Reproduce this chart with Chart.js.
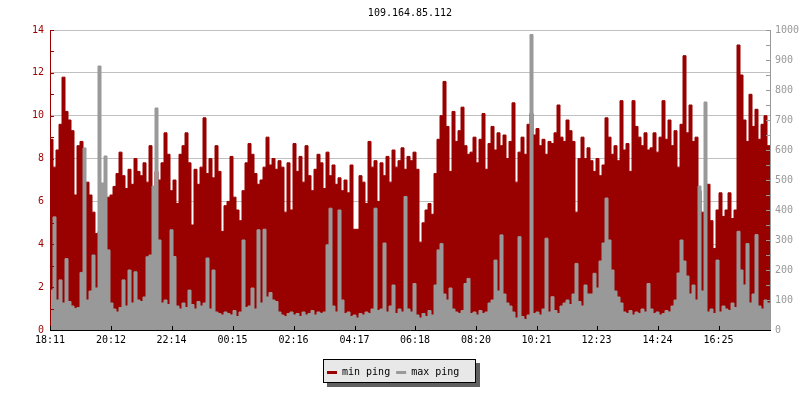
<!DOCTYPE html>
<html><head><meta charset="utf-8">
<script src="https://cdn.jsdelivr.net/npm/chart.js@4"></script>
<style>html,body{margin:0;padding:0;background:#fff}#wrap{width:800px;height:400px;position:relative}</style>
</head><body><div id="wrap"><canvas id="c" width="800" height="400"></canvas></div>
<script>
const chartTitle = '109.164.85.112';
const seriesNames = ['min ping', 'max ping'];
const stepMinutes = 6;
const spanMinutes = 1440;
const tickMinutes = [0, 122, 243, 365, 487, 609, 730, 852, 973, 1093, 1215, 1337];
const tickLabels = ['18:11','20:12','22:14','00:15','02:16','04:17','06:18','08:20','10:21','12:23','14:24','16:25'];

const minPing = [
8.9,7.6,8.4,9.6,11.8,10.2,9.8,9.3,6.3,8.6,
8.8,6.8,6.9,6.3,5.5,4.5,4.6,5.0,5.5,6.2,
6.3,6.7,7.3,8.3,7.2,6.6,7.5,6.8,8.0,7.4,
7.2,7.8,6.9,8.6,6.5,7.4,7.0,7.8,9.2,8.2,
6.5,7.0,5.9,8.2,8.6,9.2,7.8,4.9,7.5,6.8,
7.6,9.9,7.3,8.0,7.1,8.6,7.4,4.6,5.8,6.0,
8.1,6.2,5.6,5.1,6.5,7.8,8.7,8.2,7.3,6.8,
7.0,7.6,9.0,7.7,8.0,7.5,7.9,7.6,5.5,7.8,
5.6,8.7,7.4,8.1,6.9,8.6,7.2,6.5,7.5,8.2,
7.8,6.6,8.3,7.2,7.7,6.8,7.1,6.5,7.0,6.4,
7.7,4.7,4.7,7.2,6.9,5.9,8.8,7.6,7.9,6.0,
7.8,7.2,8.1,6.9,8.4,7.6,7.9,8.5,7.5,8.1,
7.9,8.3,7.5,4.1,5.0,5.6,5.9,5.4,7.3,8.9,
10.0,11.6,9.5,7.4,10.2,8.8,9.3,10.4,8.6,8.2,
8.3,9.0,7.8,8.9,10.1,7.5,8.7,9.5,8.4,9.2,
8.6,9.1,8.0,8.8,10.6,6.9,8.3,9.0,8.2,9.6,
10.1,9.1,9.4,8.6,8.9,8.2,8.8,8.7,9.2,10.5,
9.0,8.8,9.8,9.3,8.8,5.5,8.0,9.0,8.0,8.5,
7.9,7.4,8.0,7.2,7.7,9.9,9.0,8.2,8.6,7.9,
10.7,8.4,8.7,7.4,10.7,9.5,9.0,8.6,9.2,8.4,
8.5,9.2,8.3,9.0,10.7,8.9,9.8,8.6,9.3,7.6,
9.6,12.8,9.2,10.5,8.8,9.0,6.5,5.5,4.8,6.8,
5.1,3.8,5.6,6.4,5.3,5.6,6.4,5.2,5.6,13.3,
11.9,9.8,8.8,11.0,9.5,10.3,8.9,9.6,10.0,8.6
];

const maxPing = [
133,377,100,167,90,238,95,80,72,75,
192,607,100,130,250,140,880,490,580,267,
90,70,60,75,167,80,200,90,194,100,
95,110,244,250,480,740,300,90,100,85,
334,245,80,70,90,75,133,85,70,95,
80,90,240,70,200,60,55,50,60,55,
50,65,45,60,300,75,80,140,70,334,
90,336,110,125,100,95,60,50,45,55,
60,50,55,45,60,50,55,65,50,60,
55,60,284,406,80,60,400,100,55,60,
45,50,40,55,50,60,55,70,406,65,
70,290,60,80,150,55,70,60,445,70,
60,155,50,40,55,45,65,50,150,267,
288,120,100,140,70,60,55,65,155,172,
55,60,50,65,55,60,90,100,233,130,
317,120,90,80,60,40,311,45,35,50,
985,55,60,50,70,306,60,111,65,55,
80,90,100,85,120,222,95,80,150,120,
120,189,140,230,290,440,300,200,130,110,
90,60,55,65,50,60,55,70,60,155,
70,55,60,50,55,65,60,80,100,190,
300,230,180,120,150,100,480,130,760,60,
70,55,233,60,80,70,65,90,75,329,
200,150,288,90,120,318,80,70,100,90
];

const redColor = '#990000';
const grayColor = '#999999';
const monoFont = { family: "'DejaVu Sans Mono', 'Liberation Mono', monospace", size: 10, weight: 'normal' };

function toPoints(values) {
  const pts = values.map((v, i) => ({ x: i * stepMinutes, y: v }));
  pts.push({ x: spanMinutes, y: values[values.length - 1] });
  return pts;
}

const decor = {
  id: 'decor',
  afterDatasetsDraw(chart) {
    const { ctx, chartArea: a, scales } = chart;
    ctx.save();
    ctx.lineWidth = 1;
    ctx.strokeStyle = redColor;
    ctx.beginPath();
    ctx.moveTo(a.left + 0.5, a.top); ctx.lineTo(a.left + 0.5, a.bottom);
    scales.yL.ticks.forEach(t => {
      const y = Math.round(scales.yL.getPixelForValue(t.value)) + 0.5;
      ctx.moveTo(a.left, y); ctx.lineTo(a.left + 4, y);
    });
    ctx.stroke();
    ctx.strokeStyle = grayColor;
    ctx.beginPath();
    ctx.moveTo(a.right + 0.5, a.top); ctx.lineTo(a.right + 0.5, a.bottom);
    scales.yR.ticks.forEach(t => {
      const y = Math.round(scales.yR.getPixelForValue(t.value)) + 0.5;
      ctx.moveTo(a.right - 4, y); ctx.lineTo(a.right + 1, y);
    });
    ctx.stroke();
    ctx.strokeStyle = '#000';
    ctx.beginPath();
    ctx.moveTo(a.left, a.bottom + 0.5); ctx.lineTo(a.right + 1, a.bottom + 0.5);
    scales.x.ticks.forEach(t => {
      const x = Math.round(scales.x.getPixelForValue(t.value)) + 0.5;
      ctx.moveTo(x, a.bottom - 4); ctx.lineTo(x, a.bottom + 1);
    });
    ctx.stroke();
    ctx.restore();
  },
  afterDraw(chart) {
    const { ctx } = chart;
    const lx = 323, ly = 359, lw = 153, lh = 24;
    ctx.save();
    ctx.fillStyle = '#606060';
    ctx.fillRect(lx + 4, ly + 4, lw, lh);
    ctx.fillStyle = '#e8e8e8';
    ctx.fillRect(lx, ly, lw, lh);
    ctx.strokeStyle = '#000';
    ctx.lineWidth = 1;
    ctx.strokeRect(lx + 0.5, ly + 0.5, lw - 1, lh - 1);
    ctx.font = "10px 'DejaVu Sans Mono', monospace";
    ctx.textBaseline = 'alphabetic';
    ctx.textAlign = 'left';
    let x = lx + 4;
    chart.data.datasets.forEach(ds => {
      ctx.fillStyle = ds.borderColor;
      ctx.fillRect(x, ly + 12, 10, 3);
      x += 15;
      ctx.fillStyle = '#000';
      ctx.fillText(ds.label, x, ly + 16);
      x += ctx.measureText(ds.label).width + 6;
    });
    ctx.restore();
  }
};

new Chart(document.getElementById('c'), {
  type: 'line',
  data: {
    datasets: [
      { label: seriesNames[0], data: toPoints(minPing), yAxisID: 'yL', stepped: true, fill: 'origin',
        backgroundColor: redColor, borderColor: redColor, borderWidth: 1, pointRadius: 0, order: 1 },
      { label: seriesNames[1], data: toPoints(maxPing), yAxisID: 'yR', stepped: true, fill: 'origin',
        backgroundColor: grayColor, borderColor: grayColor, borderWidth: 1, pointRadius: 0, order: 0 }
    ]
  },
  options: {
    responsive: false,
    animation: false,
    events: [],
    layout: { padding: { top: 0, left: 0, right: 0, bottom: 50 } },
    plugins: {
      legend: { display: false },
      tooltip: { enabled: false },
      title: { display: true, text: chartTitle, fullSize: false, color: '#000', font: monoFont, padding: { top: 7, bottom: 11 } }
    },
    scales: {
      x: {
        type: 'linear', min: 0, max: spanMinutes,
        border: { display: false },
        grid: { display: false, drawTicks: false },
        ticks: { autoSkip: false, maxRotation: 0, padding: 4, color: '#000', font: monoFont,
                 callback: (v, i) => tickLabels[i] ?? '' },
        afterBuildTicks: s => { s.ticks = tickMinutes.map(v => ({ value: v })); },
        afterFit: s => { s.height = 20; }
      },
      yL: {
        position: 'left', min: 0, max: 14,
        border: { display: false },
        grid: { drawTicks: false, color: c => (c.tick && c.tick.value % 2 === 0) ? '#c0c0c0' : 'rgba(0,0,0,0)' },
        ticks: { stepSize: 1, autoSkip: false, padding: 6, color: redColor, font: monoFont,
                 callback: v => v % 2 === 0 ? String(v) : '' },
        afterFit: s => { s.width = 50; }
      },
      yR: {
        position: 'right', min: 0, max: 1000,
        border: { display: false },
        grid: { drawOnChartArea: false, drawTicks: false },
        ticks: { stepSize: 50, autoSkip: false, padding: 5, color: grayColor, font: monoFont,
                 callback: v => v % 100 === 0 ? String(v) : '' },
        afterFit: s => { s.width = 30; }
      }
    }
  },
  plugins: [decor]
});
</script></body></html>
